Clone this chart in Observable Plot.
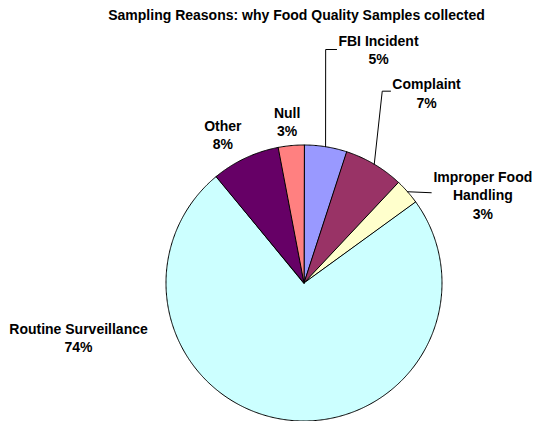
<!DOCTYPE html>
<html>
<head>
<meta charset="utf-8">
<script src="https://cdn.jsdelivr.net/npm/d3@7"></script>
<script src="https://cdn.jsdelivr.net/npm/@observablehq/plot@0.6"></script>
<style>
  html, body { margin: 0; padding: 0; background: #ffffff; }
  #chart svg { display: block; }
</style>
</head>
<body>
<div id="chart"></div>
<script>
// Sampling reasons for food quality samples (percent of all samples)
const reasons = ["FBI Incident", "Complaint", "Improper Food Handling", "Routine Surveillance", "Other", "Null"];
const percents = [5, 7, 3, 74, 8, 3];
const labelText = ["FBI Incident\n5%", "Complaint\n7%", "Improper Food\nHandling\n3%", "Routine Surveillance\n74%", "Other\n8%", "Null\n3%"];
const sliceColors = ["#9999FF", "#993366", "#FFFFCC", "#CCFFFF", "#660066", "#FF8080"];
const title = "Sampling Reasons: why Food Quality Samples collected";

// Layout: pie centre and radius in pixels, label anchors in pie-radius units
const W = 534, H = 421, CX = 303.5, CY = 282.5, R = 138;
const labelPos = [[0.540, 1.697], [0.888, 1.379], [1.296, 0.643], [-1.634, -0.391], [-0.588, 1.078], [-0.122, 1.174]];
// Leader lines: bend points after the slice edge (radius units); null = no leader
const leaderBends = [
  [[0.157, 1.692], [0.236, 1.692]],
  [[0.567, 1.390], [0.627, 1.390]],
  [[0.922, 0.654]],
  null, null, null
];

// Slices run clockwise from 12 o'clock; angle measured from the top
const total = d3.sum(percents);
const slices = [];
let acc = 0;
reasons.forEach((name, i) => {
  const a0 = acc / total * 2 * Math.PI;
  acc += percents[i];
  const a1 = acc / total * 2 * Math.PI;
  slices.push({name, a0, a1, mid: (a0 + a1) / 2});
});

// Outline of every slice as a closed polygon in radius units
const sliceRows = [];
for (const s of slices) {
  sliceRows.push({name: s.name, x: 0, y: 0});
  const n = Math.max(2, Math.ceil((s.a1 - s.a0) / (Math.PI / 360)));
  for (let k = 0; k <= n; k++) {
    const a = s.a0 + (s.a1 - s.a0) * k / n;
    sliceRows.push({name: s.name, x: Math.sin(a), y: Math.cos(a)});
  }
}

// Leader lines from the slice edge (at its middle angle) to the label
const leaderRows = [];
slices.forEach((s, i) => {
  if (!leaderBends[i]) return;
  leaderRows.push({name: s.name, x: Math.sin(s.mid), y: Math.cos(s.mid)});
  for (const [x, y] of leaderBends[i]) leaderRows.push({name: s.name, x, y});
});

const labels = reasons.map((name, i) => ({name, text: labelText[i], x: labelPos[i][0], y: labelPos[i][1]}));

const font = "'Liberation Sans', Arial, Helvetica, sans-serif";

const chart = Plot.plot({
  width: W,
  height: H,
  margin: 0,
  style: {background: "#ffffff", fontFamily: font},
  x: {domain: [-CX / R, (W - CX) / R], range: [0, W], axis: null},
  y: {domain: [-(H - CY) / R, CY / R], range: [H, 0], axis: null},
  color: {type: "ordinal", domain: reasons, range: sliceColors},
  marks: [
    Plot.line(sliceRows, {x: "x", y: "y", z: "name", fill: "name", stroke: "#000000", strokeWidth: 1, curve: "linear-closed"}),
    Plot.line(leaderRows, {x: "x", y: "y", z: "name", stroke: "#000000", strokeWidth: 1}),
    Plot.text(labels, {x: "x", y: "y", text: "text", fontSize: 14, fontWeight: "bold", fill: "#000000", textAnchor: "middle", lineAnchor: "middle", lineHeight: 1.32}),
    Plot.text([title], {frameAnchor: "top", dx: 29, dy: 15, lineAnchor: "middle", fontSize: 14, fontWeight: "bold", fill: "#000000"})
  ]
});

document.getElementById("chart").appendChild(chart);
</script>
</body>
</html>
